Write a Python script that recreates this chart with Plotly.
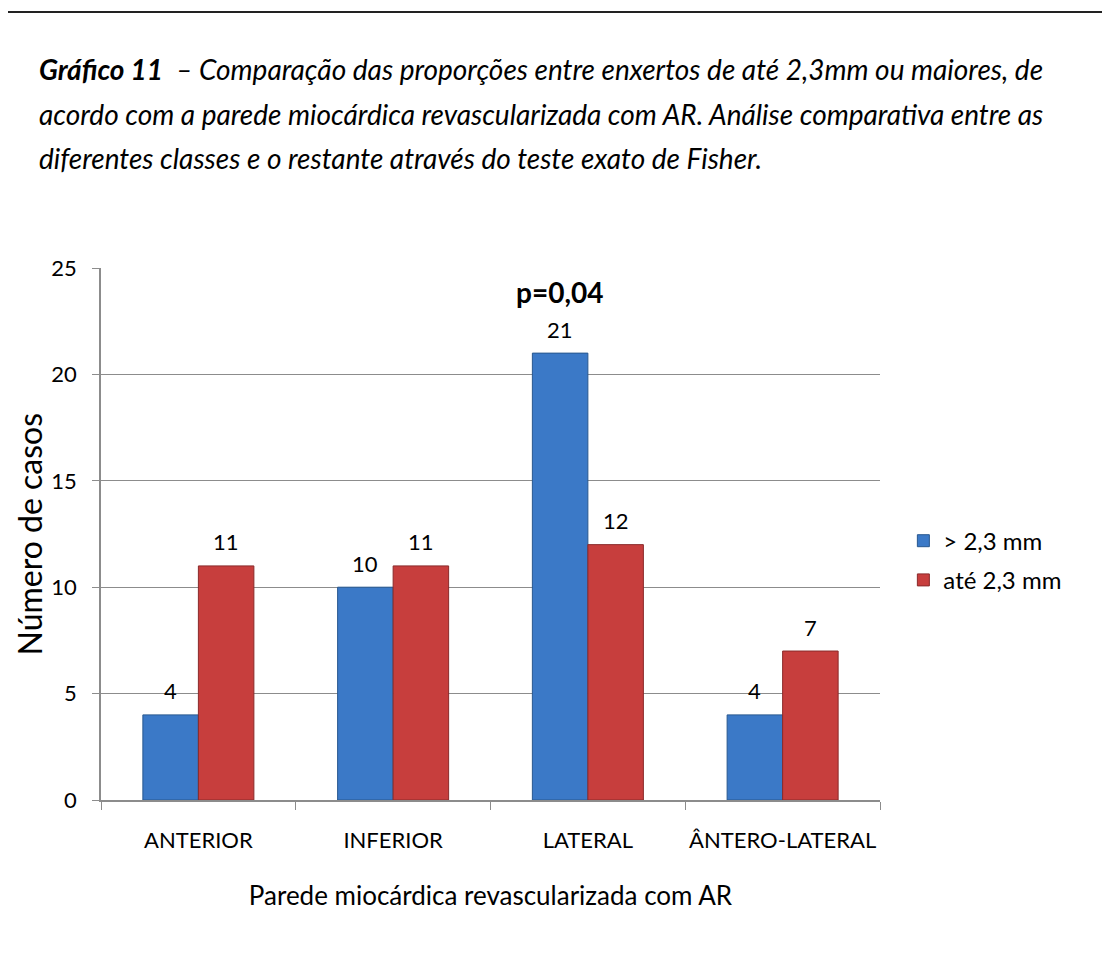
import plotly.graph_objects as go

# Data
CATEGORIES = ["ANTERIOR", "INFERIOR", "LATERAL", "ÂNTERO-LATERAL"]
SERIES_NAMES = ["> 2,3 mm", "até 2,3 mm"]
VALUES_GT = [4, 10, 21, 4]
VALUES_LE = [11, 11, 12, 7]
P_LABEL = "p=0,04"
P_CATEGORY = "LATERAL"
Y_TICKS = [0, 5, 10, 15, 20, 25]

TITLE_LINES = [
    "<b>Gráfico 11</b>  – Comparação das proporções entre enxertos de até 2,3mm ou maiores, de",
    "acordo com a parede miocárdica revascularizada com AR. Análise comparativa entre as",
    "diferentes classes e o restante através do teste exato de Fisher.",
]

BLUE = "#3b79c7"
BLUE_EDGE = "#28588f"
RED = "#c73e3d"
RED_EDGE = "#8a2a2a"
GRID = "#8c8c8c"
FONT = "Lato"

fig = go.Figure()
fig.add_trace(go.Bar(
    x=CATEGORIES, y=VALUES_GT, name=SERIES_NAMES[0], legendgroup="a",
    marker=dict(color=BLUE, line=dict(color=BLUE_EDGE, width=1)),
))
fig.add_trace(go.Bar(
    x=CATEGORIES, y=VALUES_LE, name=SERIES_NAMES[1], legendgroup="b",
    marker=dict(color=RED, line=dict(color=RED_EDGE, width=1)),
))

# value labels above bars
for vals, shift in [(VALUES_GT, -28), (VALUES_LE, 28)]:
    for cat, v in zip(CATEGORIES, vals):
        fig.add_annotation(
            x=cat, y=v, text=str(v), showarrow=False,
            xshift=shift, yshift=24, font=dict(size=22, color="black", family=FONT),
        )

# significance label over the LATERAL blue bar
p_val = VALUES_GT[CATEGORIES.index(P_CATEGORY)]
fig.add_annotation(
    x=P_CATEGORY, y=p_val, text=f"<b>{P_LABEL}</b>", showarrow=False,
    xshift=-28, yshift=61, font=dict(size=28, color="black", family=FONT),
)

# caption text
for i, line in enumerate(TITLE_LINES):
    fig.add_annotation(
        xref="paper", yref="paper", x=-0.082, y=1.374 - i * 0.0836,
        xanchor="left", yanchor="middle", text=line, showarrow=False, align="left",
        font=dict(size=28, color="black", family=FONT, style="italic"),
    )

# y axis title, placed by hand at the left page edge
fig.add_annotation(
    xref="paper", yref="paper", x=-0.1194, y=0.5, textangle=-90,
    xanchor="left", yanchor="middle", text="Número de casos", showarrow=False,
    font=dict(size=32, color="black", family=FONT),
)

# rule at the top of the page
fig.add_shape(
    type="line", xref="paper", yref="paper",
    x0=-0.13, x1=1.3, y0=1.481, y1=1.481,
    line=dict(color="#222222", width=2),
)

fig.update_layout(
    width=1102, height=945,
    plot_bgcolor="white", paper_bgcolor="white",
    barmode="group", bargap=0.43, bargroupgap=0,
    margin=dict(l=93, r=230, t=260, b=153),
    font=dict(family=FONT, color="black"),
    legend=dict(
        x=1.03, y=0.45, xanchor="left", yanchor="middle",
        font=dict(size=24), tracegroupgap=5,
    ),
    xaxis=dict(
        tickson="boundaries", ticks="outside", ticklen=8, tickcolor=GRID,
        showline=True, linecolor=GRID, linewidth=1.5,
        tickfont=dict(size=22), ticklabelstandoff=20, tickangle=0, automargin=False,
        title=dict(text="Parede miocárdica revascularizada com AR", font=dict(size=26), standoff=35),
    ),
    yaxis=dict(
        range=[0, 25], tickvals=Y_TICKS, ticks="outside", ticklen=7, tickcolor=GRID,
        showline=True, linecolor=GRID, linewidth=1.5,
        showgrid=True, gridcolor=GRID, gridwidth=1,
        tickfont=dict(size=22), ticklabelstandoff=11, automargin=False,
        zeroline=False,
    ),
)

fig.write_html("out.html")
